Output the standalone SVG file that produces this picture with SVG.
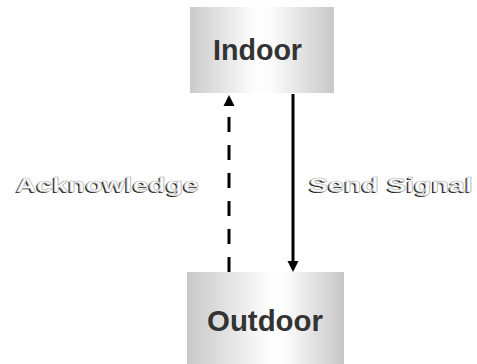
<svg xmlns="http://www.w3.org/2000/svg" width="477" height="364" viewBox="0 0 477 364">
  <defs>
    <linearGradient id="g1" x1="0" y1="0" x2="1" y2="0">
      <stop offset="0" stop-color="#cbcbcb"/>
      <stop offset="0.45" stop-color="#fdfdfd"/>
      <stop offset="0.55" stop-color="#fdfdfd"/>
      <stop offset="1" stop-color="#c8c8c8"/>
    </linearGradient>
    <linearGradient id="g2" x1="0" y1="0" x2="1" y2="0">
      <stop offset="0" stop-color="#c8c8c8"/>
      <stop offset="0.52" stop-color="#fdfdfd"/>
      <stop offset="0.62" stop-color="#fdfdfd"/>
      <stop offset="1" stop-color="#c6c6c6"/>
    </linearGradient>
  </defs>
  <style>
    .node-text { font-family: "Liberation Sans", Arial, sans-serif; font-weight: bold; font-size: 30px; fill: #333333; }
    .lbl { font-family: "Liberation Sans", Arial, sans-serif; font-weight: bold; font-size: 21px; }
    .shadow { fill: #1a1a1a; }
    .face { fill: #ffffff; stroke: #b0b0b0; stroke-width: 0.6px; }
    .conn { stroke: #000000; stroke-width: 3; fill: none; }
    .head { fill: #000000; }
  </style>
  <rect width="477" height="364" fill="#ffffff"/>
  <g id="indoor">
    <rect x="190" y="7" width="144" height="86" fill="url(#g1)"/>
    <text class="node-text" x="213" y="60" textLength="89" lengthAdjust="spacingAndGlyphs">Indoor</text>
  </g>
  <g id="outdoor">
    <rect x="187" y="272" width="157" height="92" fill="url(#g2)"/>
    <text class="node-text" x="207" y="331" textLength="116" lengthAdjust="spacingAndGlyphs">Outdoor</text>
  </g>
  <g id="connectors">
    <line class="conn" x1="229" y1="272" x2="229" y2="105" stroke-dasharray="15 13"/>
    <polygon class="head" points="229,95 223.5,106 234.5,106"/>
    <line class="conn" x1="293" y1="94" x2="293" y2="262"/>
    <polygon class="head" points="293,272 287.5,261 298.5,261"/>
  </g>
  <g id="label-acknowledge">
    <text class="lbl shadow" x="14.5" y="193" textLength="183" lengthAdjust="spacingAndGlyphs">Acknowledge</text>
    <text class="lbl face" x="16" y="191.5" textLength="183" lengthAdjust="spacingAndGlyphs">Acknowledge</text>
  </g>
  <g id="label-send">
    <text class="lbl shadow" x="307.5" y="193" textLength="164" lengthAdjust="spacingAndGlyphs">Send Signal</text>
    <text class="lbl face" x="309" y="191.5" textLength="164" lengthAdjust="spacingAndGlyphs">Send Signal</text>
  </g>
</svg>
